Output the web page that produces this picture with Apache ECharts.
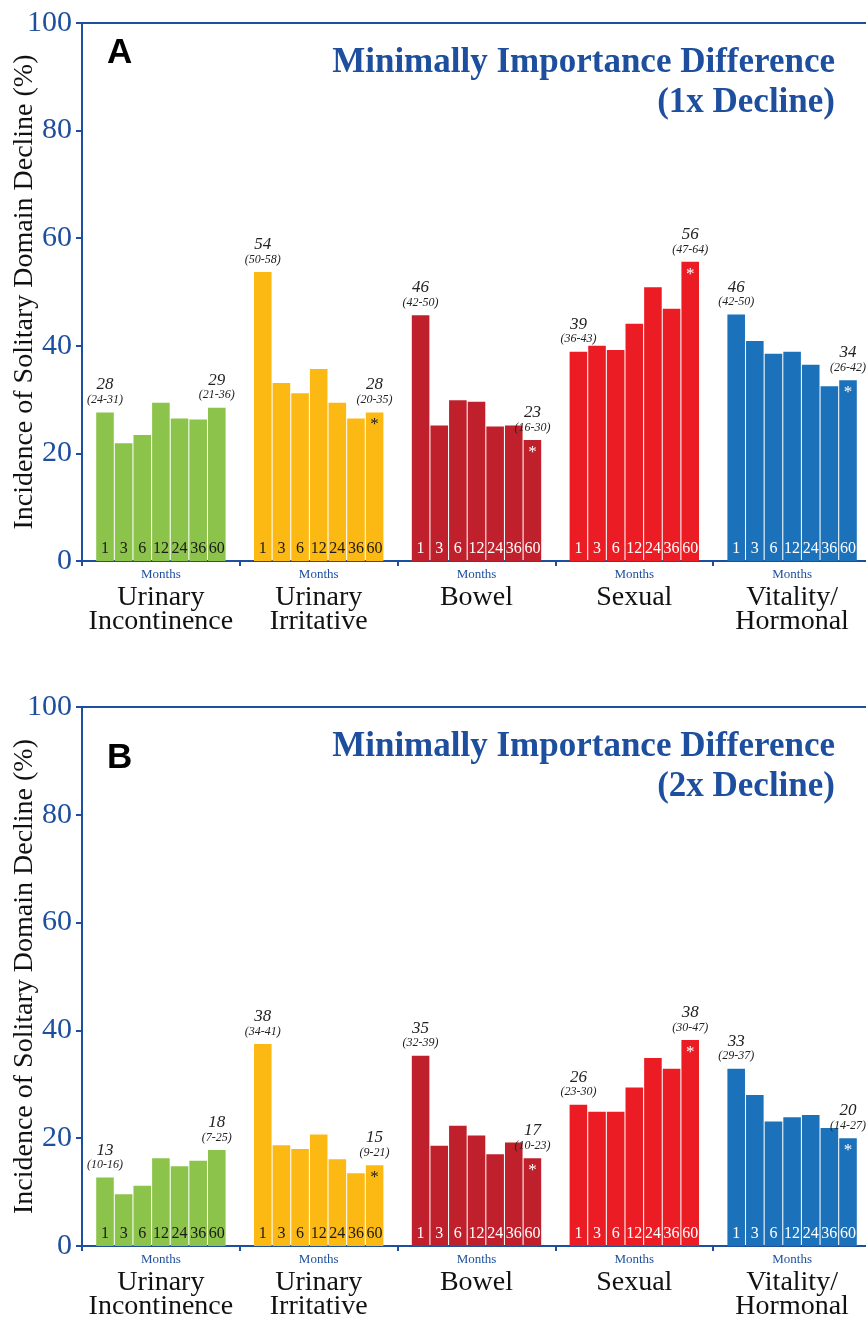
<!DOCTYPE html>
<html>
<head>
<meta charset="utf-8">
<script src="https://cdn.jsdelivr.net/npm/echarts@6.0.0/dist/echarts.min.js"></script>
<style>
  html, body { margin: 0; padding: 0; background: #fff; }
  #chart { width: 866px; height: 1324px; }
</style>
</head>
<body>
<div id="chart"></div>
<script>
// month labels inside the bars, domain names under each group
var months = ['1', '3', '6', '12', '24', '36', '60'];
var domains = ['Urinary\nIncontinence', 'Urinary\nIrritative', 'Bowel', 'Sexual', 'Vitality/\nHormonal'];

// A: 1x decline (%), one array per domain, months 1..60
var uiA  = [27.6, 21.9, 23.4, 29.4, 26.5, 26.3, 28.5];
var uirA = [53.7, 33.1, 31.2, 35.7, 29.4, 26.5, 27.6];
var bowA = [45.7, 25.2, 29.9, 29.6, 25.0, 25.2, 22.5];
var sexA = [38.9, 40.0, 39.2, 44.1, 50.9, 46.9, 55.6];
var vitA = [45.8, 40.9, 38.5, 38.9, 36.5, 32.5, 33.6];

// B: 2x decline (%)
var uiB  = [12.7, 9.6, 11.2, 16.3, 14.8, 15.8, 17.8];
var uirB = [37.5, 18.7, 18.0, 20.7, 16.1, 13.5, 15.0];
var bowB = [35.3, 18.6, 22.3, 20.5, 17.0, 19.2, 16.3];
var sexB = [26.2, 24.9, 24.9, 29.4, 34.9, 32.9, 38.2];
var vitB = [32.9, 28.0, 23.1, 23.9, 24.3, 21.9, 20.0];

// estimates and CIs written above first and last bar
var firstEstA = ['28', '54', '46', '39', '46'];
var firstCiA  = ['24-31', '50-58', '42-50', '36-43', '42-50'];
var lastEstA  = ['29', '28', '23', '56', '34'];
var lastCiA   = ['21-36', '20-35', '16-30', '47-64', '26-42'];
var firstEstB = ['13', '38', '35', '26', '33'];
var firstCiB  = ['10-16', '34-41', '32-39', '23-30', '29-37'];
var lastEstB  = ['18', '15', '17', '38', '20'];
var lastCiB   = ['7-25', '9-21', '10-23', '30-47', '14-27'];
var stars = ['', '*', '*', '*', '*'];

var barColors = ['#8cc34b', '#fdb913', '#c0202b', '#ec1c24', '#1b72ba'];
var inkColors = ['#1a1a1a', '#1a1a1a', '#ffffff', '#ffffff', '#ffffff'];
var blue = '#1d4f9e';
var serif = '"Liberation Serif", "DejaVu Serif", serif';

var panels = [
  { vals: [uiA, uirA, bowA, sexA, vitA], fe: firstEstA, fc: firstCiA, le: lastEstA, lc: lastCiA,
    letter: 'A', letterY: 36, title: 'Minimally Importance Difference\n(1x Decline)', top: 23, height: 538 },
  { vals: [uiB, uirB, bowB, sexB, vitB], fe: firstEstB, fc: firstCiB, le: lastEstB, lc: lastCiB,
    letter: 'B', letterY: 741, title: 'Minimally Importance Difference\n(2x Decline)', top: 707, height: 539 }
];

var myChart = echarts.init(document.getElementById('chart'));

var grids = [], xAxes = [], yAxes = [], series = [], graphics = [];

panels.forEach(function (p, pi) {
  grids.push({ left: 82, width: 789, top: p.top, height: p.height, outerBoundsMode: 'none', containLabel: false });

  xAxes.push({
    type: 'category', gridIndex: pi, data: domains,
    axisLine: { lineStyle: { color: blue, width: 2 } },
    axisTick: { show: true, length: 5, lineStyle: { color: blue, width: 2 } },
    axisLabel: {
      interval: 0, margin: 2,
      formatter: function (v) {
        return '{m|Months}\n' + v.split('\n').map(function (s) { return '{d|' + s + '}'; }).join('\n');
      },
      rich: {
        m: { fontFamily: serif, fontSize: 13, color: blue, lineHeight: 23 },
        d: { fontFamily: serif, fontSize: 28, color: '#111', lineHeight: 24 }
      }
    }
  });
  // top border line
  xAxes.push({
    type: 'category', gridIndex: pi, position: 'top', data: domains,
    axisLine: { lineStyle: { color: blue, width: 2 } },
    axisTick: { show: false }, axisLabel: { show: false }
  });

  yAxes.push({
    type: 'value', gridIndex: pi, min: 0, max: 100, interval: 20,
    name: 'Incidence of Solitary Domain Decline (%)',
    nameLocation: 'middle', nameGap: 43, nameMoveOverlap: false,
    nameTextStyle: { fontFamily: serif, fontSize: 28, color: '#111' },
    axisLine: { show: true, lineStyle: { color: blue, width: 2 } },
    axisTick: { show: true, length: 6, lineStyle: { color: blue, width: 2 } },
    axisLabel: { fontFamily: serif, fontSize: 30, color: blue, margin: 10 },
    splitLine: { show: false }
  });

  months.forEach(function (m, mi) {
    var stack = 'p' + pi + 'm' + mi;
    series.push({
      type: 'bar', xAxisIndex: pi * 2, yAxisIndex: pi, stack: stack,
      barCategoryGap: '18%', barGap: '6%',
      data: p.vals.map(function (v, di) {
        return { value: v[mi], itemStyle: { color: barColors[di] }, label: { color: inkColors[di] } };
      }),
      label: { show: true, position: 'insideBottom', distance: 4, formatter: m,
               fontFamily: serif, fontSize: 16 },
      silent: true, animation: false
    });

    // estimate + CI above first / last bar
    if (mi === 0 || mi === months.length - 1) {
      var est = mi === 0 ? p.fe : p.le;
      var ci = mi === 0 ? p.fc : p.lc;
      series.push({
        type: 'bar', xAxisIndex: pi * 2, yAxisIndex: pi, stack: stack,
        data: domains.map(function () { return 0; }),
        itemStyle: { color: 'rgba(0,0,0,0)' },
        label: {
          show: true, position: 'top', distance: 6,
          formatter: function (params) {
            return '{v|' + est[params.dataIndex] + '}\n{c|(' + ci[params.dataIndex] + ')}';
          },
          rich: {
            v: { fontFamily: serif, fontStyle: 'italic', fontSize: 17, color: '#222', lineHeight: 17 },
            c: { fontFamily: serif, fontStyle: 'italic', fontSize: 12, color: '#222', lineHeight: 13 }
          }
        },
        silent: true, animation: false
      });
    }
    // asterisk on the 60 month bar
    if (mi === months.length - 1) {
      series.push({
        type: 'bar', xAxisIndex: pi * 2, yAxisIndex: pi, stack: stack,
        data: domains.map(function (d, di) { return { value: 0, label: { color: inkColors[di] } }; }),
        itemStyle: { color: 'rgba(0,0,0,0)' },
        label: {
          show: true, position: 'insideTop', distance: 4,
          formatter: function (params) { return stars[params.dataIndex]; },
          fontFamily: serif, fontSize: 17
        },
        silent: true, animation: false
      });
    }
  });

  graphics.push({
    type: 'text', silent: true,
    style: { x: 107, y: p.letterY, text: p.letter, fill: '#000',
             font: 'bold 35px "Liberation Sans", Arial, sans-serif', verticalAlign: 'top' }
  });
  graphics.push({
    type: 'text', silent: true,
    style: { x: 835, y: p.top + 20, text: p.title, fill: blue, align: 'right', verticalAlign: 'top',
             lineHeight: 40, font: 'bold 35px "Liberation Serif", serif' }
  });
});

var option = {
  backgroundColor: '#fff',
  animation: false,
  grid: grids,
  xAxis: xAxes,
  yAxis: yAxes,
  series: series,
  graphic: graphics
};
myChart.setOption(option);
</script>
</body>
</html>
